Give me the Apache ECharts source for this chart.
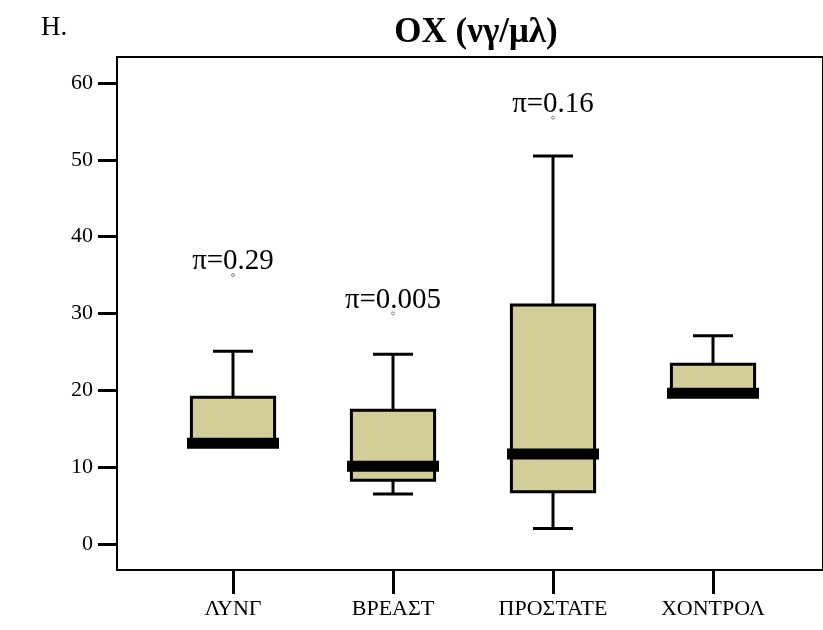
<!DOCTYPE html>
<html>
<head>
<meta charset="utf-8">
<script src="https://cdn.jsdelivr.net/npm/echarts@6/dist/echarts.min.js"></script>
<style>
  html, body { margin: 0; padding: 0; background: #fff; }
  #chart { width: 823px; height: 630px; }
</style>
</head>
<body>
<div id="chart"></div>
<script>
// Groups and five-number summaries (ng/ml)
const categories = ['ΛΥΝΓ', 'ΒΡΕΑΣΤ', 'ΠΡΟΣΤΑΤΕ', 'ΧΟΝΤΡΟΛ'];
const mins    = [12.8, 6.5, 2.0, 19.4];
const q1s     = [12.8, 8.3, 6.8, 19.4];
const medians = [13.1, 10.1, 11.7, 19.6];
const q3s     = [19.1, 17.4, 31.1, 23.4];
const maxs    = [25.1, 24.7, 50.5, 27.1];

// p-values printed above three of the groups
const pLabels    = ['π=0.29', 'π=0.005', 'π=0.16'];
const pPositions = [35.0, 30.0, 55.5];

const yTicks = [0, 10, 20, 30, 40, 50, 60];
const xTicks = [1, 2, 3, 4];

const serif = '"Liberation Serif", "DejaVu Serif", serif';

const boxData = categories.map((c, i) => [i + 1, mins[i], q1s[i], medians[i], q3s[i], maxs[i]]);
const pData = pLabels.map((t, i) => ({ value: [i + 1, pPositions[i]], label: { formatter: t } }));

function renderBox(params, api) {
  const x = api.value(0);
  const unit = api.size([1, 0])[0];
  const boxW = unit * 0.52;
  const medW = unit * 0.575;
  const capW = unit * 0.25;
  const pMin = api.coord([x, api.value(1)]);
  const pQ1 = api.coord([x, api.value(2)]);
  const pMed = api.coord([x, api.value(3)]);
  const pQ3 = api.coord([x, api.value(4)]);
  const pMax = api.coord([x, api.value(5)]);
  const cx = pMed[0];
  const line = { stroke: '#000', lineWidth: 3 };
  const children = [];
  // upper whisker and cap
  if (pMax[1] < pQ3[1] - 0.5) {
    children.push({ type: 'line', shape: { x1: cx, y1: pQ3[1], x2: cx, y2: pMax[1] }, style: line });
    children.push({ type: 'line', shape: { x1: cx - capW / 2, y1: pMax[1], x2: cx + capW / 2, y2: pMax[1] }, style: line });
  }
  // lower whisker and cap
  if (pMin[1] > pQ1[1] + 0.5) {
    children.push({ type: 'line', shape: { x1: cx, y1: pQ1[1], x2: cx, y2: pMin[1] }, style: line });
    children.push({ type: 'line', shape: { x1: cx - capW / 2, y1: pMin[1], x2: cx + capW / 2, y2: pMin[1] }, style: line });
  }
  // box
  children.push({
    type: 'rect',
    shape: { x: cx - boxW / 2, y: pQ3[1], width: boxW, height: pQ1[1] - pQ3[1] },
    style: { fill: '#d3ce99', stroke: '#000', lineWidth: 3 }
  });
  // median bar
  children.push({
    type: 'rect',
    shape: { x: cx - medW / 2, y: pMed[1] - 5.5, width: medW, height: 11 },
    style: { fill: '#000' }
  });
  return { type: 'group', children };
}

const chart = echarts.init(document.getElementById('chart'), null, { renderer: 'canvas' });
chart.setOption({
  animation: false,
  backgroundColor: '#fff',
  title: [
    {
      text: 'OX (νγ/μλ)', left: 471, top: 10, textAlign: 'center',
      textStyle: { fontFamily: serif, fontSize: 35, fontWeight: 'bold', color: '#000' }
    },
    {
      text: 'H.', left: 36, top: 9,
      textStyle: { fontFamily: serif, fontSize: 27, fontWeight: 'normal', color: '#000' }
    }
  ],
  grid: {
    left: 117, right: 0, top: 57, bottom: 60,
    show: true, borderColor: '#000', borderWidth: 2, backgroundColor: 'transparent'
  },
  xAxis: {
    type: 'value', min: 0.275, max: 4.6875,
    axisLine: { show: true, onZero: false, lineStyle: { color: '#000', width: 2 } },
    axisTick: { show: true, customValues: xTicks, length: 24, lineStyle: { color: '#000', width: 3 } },
    axisLabel: {
      customValues: xTicks, margin: 28,
      formatter: v => categories[Math.round(v) - 1] || '',
      fontFamily: serif, fontSize: 22, color: '#000'
    },
    splitLine: { show: false }
  },
  yAxis: {
    type: 'value', min: -3.4, max: 63.4,
    axisLine: { show: true, onZero: false, lineStyle: { color: '#000', width: 2 } },
    axisTick: { show: true, customValues: yTicks, length: 19, lineStyle: { color: '#000', width: 3 } },
    axisLabel: {
      customValues: yTicks, margin: 24,
      fontFamily: serif, fontSize: 22, color: '#000'
    },
    splitLine: { show: false }
  },
  series: [
    {
      type: 'custom',
      renderItem: renderBox,
      data: boxData,
      encode: { x: 0, y: [1, 2, 3, 4, 5] },
      z: 3
    },
    {
      type: 'scatter',
      data: pData,
      symbol: 'circle', symbolSize: 3,
      itemStyle: { color: '#fff', borderColor: '#888', borderWidth: 1, opacity: 1 },
      label: {
        show: true, position: 'top', distance: 4, offset: [0, 7],
        fontFamily: serif, fontSize: 29, color: '#000', opacity: 1
      },
      z: 4
    }
  ]
});
</script>
</body>
</html>
